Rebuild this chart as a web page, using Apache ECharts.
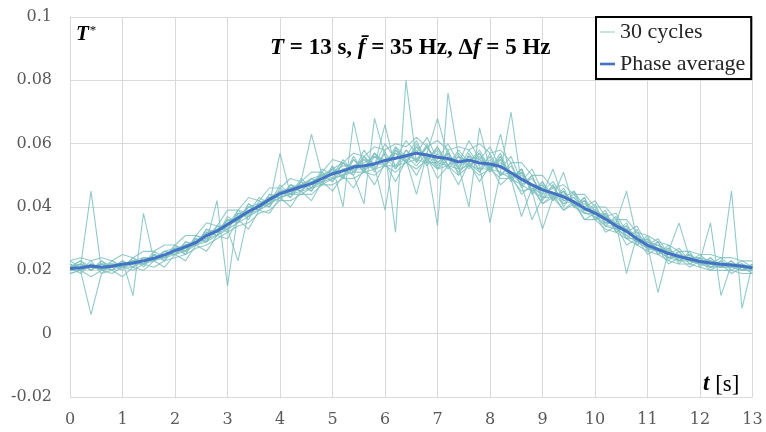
<!DOCTYPE html>
<html>
<head>
<meta charset="utf-8">
<script src="https://cdn.jsdelivr.net/npm/echarts@6/dist/echarts.min.js"></script>
<style>
  html, body { margin: 0; padding: 0; background: #fff; }
</style>
</head>
<body>
<div id="chart" style="width: 766px; height: 432px"></div>
<script>
// time grid [s]
const times = [
  0.0, 0.2, 0.4, 0.6, 0.8, 1.0, 1.2, 1.4, 1.6, 1.8,
  2.0, 2.2, 2.4, 2.6, 2.8, 3.0, 3.2, 3.4, 3.6, 3.8,
  4.0, 4.2, 4.4, 4.6, 4.8, 5.0, 5.2, 5.4, 5.6, 5.8,
  6.0, 6.2, 6.4, 6.6, 6.8, 7.0, 7.2, 7.4, 7.6, 7.8,
  8.0, 8.2, 8.4, 8.6, 8.8, 9.0, 9.2, 9.4, 9.6, 9.8,
  10.0, 10.2, 10.4, 10.6, 10.8, 11.0, 11.2, 11.4, 11.6, 11.8,
  12.0, 12.2, 12.4, 12.6, 12.8, 13.0
];

// phase average, T* in units of 1e-3
const phaseAverage = [
  20.6, 20.8, 21.4, 21.0, 21.3, 21.9, 22.3, 23.0, 23.8, 24.9,
  26.2, 27.4, 28.8, 31.0, 32.4, 34.5, 36.5, 38.6, 40.2, 42.4,
  44.2, 45.3, 46.4, 47.4, 49.0, 50.5, 51.4, 52.6, 53.0, 53.6,
  54.7, 55.4, 56.2, 57.0, 56.4, 55.7, 55.3, 54.2, 54.8, 53.9,
  53.6, 52.8, 50.8, 48.8, 47.0, 45.4, 44.4, 43.2, 41.6, 39.6,
  38.1, 36.2, 34.1, 32.3, 30.0, 27.9, 26.6, 25.3, 24.4, 23.6,
  22.8, 22.3, 21.9, 21.7, 21.3, 20.8
];

// individual cycles, T* in units of 1e-3 (one row of 10 samples = 2 s)
const cycle1 = [
  23,21,45,20,23,21,24,22,26,24, 28,26,31,30,34,34,39,38,43,41,
  47,44,49,46,52,50,55,51,58,53, 60,55,61,57,62,55,60,54,61,55,
  59,52,56,48,52,45,48,43,45,40, 42,37,38,32,34,28,30,25,27,23,
  25,22,24,21,23,21];
const cycle2 = [
  19,20,6,19,20,18,21,20,23,21, 25,23,28,26,31,30,36,33,39,38,
  43,40,45,42,48,45,50,46,52,47, 54,48,55,50,56,49,53,47,54,48,
  53,47,50,44,47,41,44,39,42,36, 38,32,34,28,30,25,27,22,24,21,
  23,20,22,19,21,19];
const cycle3 = [
  22,20,23,19,22,20,24,21,25,23, 28,25,31,29,34,32,39,36,42,40,
  46,43,48,45,51,48,54,50,56,51, 58,32,80,54,60,52,58,50,57,51,
  57,50,54,46,50,42,47,40,45,38, 41,34,37,30,33,26,29,23,26,22,
  24,21,23,20,22,20];
const cycle4 = [
  20,22,20,23,20,23,21,24,23,26, 25,29,28,33,31,37,35,41,39,44,
  43,47,45,49,47,53,49,56,51,57, 53,59,54,60,54,34,76,56,52,57,
  51,56,48,52,45,48,42,46,40,43, 36,39,32,35,28,31,25,28,22,26,
  21,24,21,23,20,22];
const cycle5 = [
  21,19,22,20,22,21,23,22,25,24, 27,26,30,29,42,15,38,37,41,41,
  45,44,48,46,51,49,54,51,55,52, 57,53,58,55,59,54,57,52,58,53,
  35,51,70,47,50,43,47,41,44,39, 40,35,36,31,32,27,29,24,26,22,
  24,21,23,21,22,20];
const cycle6 = [
  21,23,20,22,21,23,12,38,23,26, 25,28,28,32,31,36,35,41,39,44,
  43,47,45,48,48,53,40,67,52,57, 53,58,54,59,55,59,53,57,53,56,
  52,55,50,51,45,47,42,45,40,42, 36,38,32,34,28,30,25,27,23,25,
  22,24,21,45,8,22];
const cycle7 = [
  22,20,22,20,23,21,23,22,25,23, 27,25,30,29,34,33,38,37,41,40,
  45,43,47,45,50,48,52,50,41,68, 56,52,58,54,59,53,57,52,56,52,
  56,50,53,47,49,44,46,42,43,39, 39,35,35,19,31,27,28,24,25,23,
  23,21,22,21,21,20];
const cycle8 = [
  20,22,21,22,20,23,21,24,23,26, 25,29,28,33,32,36,36,40,39,43,
  43,47,46,49,48,52,50,55,52,57, 54,58,55,44,57,68,56,53,40,65,
  52,56,49,52,45,33,43,45,40,43, 36,38,33,34,29,30,26,27,23,25,
  22,23,21,23,20,22];
const cycle9 = [
  21,22,20,22,21,22,22,23,24,25, 25,28,28,32,31,36,35,40,39,43,
  42,46,45,48,47,52,49,55,51,56, 53,57,54,58,53,57,52,56,53,55,
  51,63,49,37,46,44,52,42,43,39, 39,35,35,45,30,28,13,26,35,24,
  23,35,12,22,21,21];
const cycle10 = [
  22,20,22,21,22,21,23,22,24,24, 27,26,30,29,33,33,23,38,41,41,
  57,44,48,63,50,50,52,53,55,54, 53,57,54,59,55,58,53,56,54,57,
  52,55,49,51,45,47,42,45,40,42, 36,37,33,33,29,29,26,26,23,25,
  23,22,22,22,21,21];
const cycle11 = [
  19,20,18,20,19,21,20,22,21,23, 24,25,27,28,30,32,34,35,38,39,
  42,42,44,44,47,47,49,49,51,50, 53,51,54,52,55,52,53,50,53,50,
  52,49,49,45,46,41,43,39,41,36, 36,33,32,30,28,26,25,23,22,22,
  21,20,20,20,19,19];
const cycle12 = [
  23,24,23,24,23,25,24,26,26,28, 28,31,31,35,34,39,39,43,42,46,
  46,49,48,51,51,55,54,57,56,59, 58,60,59,62,59,61,58,59,58,60,
  57,58,54,54,50,50,46,47,44,44, 40,40,36,36,32,31,29,28,26,26,
  25,25,24,24,23,23];
const cycle13 = [
  21,23,21,22,22,22,23,24,24,26, 27,28,29,32,33,35,37,40,41,43,
  45,46,47,49,50,52,54,52,56,53, 39,59,56,61,54,59,53,58,54,58,
  52,57,49,52,44,48,43,45,41,42, 39,37,35,33,31,29,28,26,25,24,
  24,23,22,22,22,21];
const cycle14 = [
  20,21,21,20,21,21,21,23,23,25, 25,27,28,30,31,34,36,38,39,41,
  43,44,45,46,48,49,50,52,52,53, 66,52,56,53,57,52,55,51,54,51,
  55,50,51,47,36,43,44,41,42,38, 38,34,34,30,30,27,26,24,24,23,
  22,22,21,21,20,21];
const cycle15 = [
  21,22,20,23,21,22,23,22,25,24, 26,28,29,31,33,34,38,38,41,43,
  44,46,47,48,50,51,53,53,54,56, 55,57,56,55,59,54,57,53,56,55,
  53,54,51,50,47,46,44,44,41,41, 38,37,34,33,30,29,27,26,24,24,
  23,23,22,22,21,21];
const cycle16 = [
  20,20,21,21,20,21,22,22,23,24, 25,26,28,29,31,33,35,37,39,41,
  43,44,44,46,47,49,50,51,51,52, 53,53,54,55,54,54,53,52,53,52,
  52,51,49,47,45,43,43,51,40,38, 37,34,33,31,29,27,26,24,23,23,
  22,21,21,21,20,20];

const cycles = [
  cycle1, cycle2, cycle3, cycle4, cycle5, cycle6, cycle7, cycle8,
  cycle9, cycle10, cycle11, cycle12, cycle13, cycle14, cycle15, cycle16
];

function toPoints(values) {
  return values.map((v, i) => [times[i], v / 1000]);
}

const serif = "Liberation Serif";
const chart = echarts.init(document.getElementById("chart"));

// thin teal lines, one per cycle
const series = cycles.map((c) => ({
  name: "30 cycles",
  type: "line",
  symbol: "none",
  lineStyle: { width: 1.1, color: "#80c1c0", opacity: 0.85 },
  itemStyle: { color: "#80c1c0" },
  data: toPoints(c),
}));

// thick blue average on top
series.push({
  name: "Phase average",
  type: "line",
  symbol: "none",
  lineStyle: { width: 3, color: "#4472c4" },
  itemStyle: { color: "#4472c4" },
  data: toPoints(phaseAverage),
});

const option = {
  animation: false,
  grid: { left: 70, right: 13.5, top: 17, bottom: 35 },
  title: {
    left: 265,
    top: 32,
    text: "{i|T}{n| = 13 s, }{i|f\u0304}{n| = 35 Hz, \u0394}{i|f}{n| = 5 Hz}",
    textStyle: {
      rich: {
        i: { fontFamily: serif, fontSize: 23, fontWeight: "bold", fontStyle: "italic", color: "#000" },
        n: { fontFamily: serif, fontSize: 23, fontWeight: "bold", color: "#000" },
      },
    },
  },
  legend: {
    orient: "vertical",
    left: 596,
    top: 17,
    padding: [4, 6, 4, 4],
    itemGap: 10,
    itemWidth: 15,
    itemHeight: 14,
    borderColor: "#000",
    borderWidth: 2,
    backgroundColor: "#fff",
    textStyle: { fontFamily: serif, fontSize: 22, color: "#262626" },
    data: [
      { name: "30 cycles", icon: "path://M0,0H17V1H0Z" },
      { name: "Phase average", icon: "path://M0,0H17V3H0Z" },
    ],
  },
  xAxis: {
    type: "value",
    min: 0,
    max: 13,
    interval: 1,
    axisLine: { show: true, lineStyle: { color: "#d9d9d9" } },
    axisTick: { show: false },
    splitLine: { show: true, lineStyle: { color: "#d9d9d9" } },
    axisLabel: { margin: 15, fontFamily: "DejaVu Serif", fontSize: 16, color: "#595959" },
  },
  yAxis: {
    type: "value",
    min: -0.02,
    max: 0.1,
    interval: 0.02,
    axisLine: { show: true, lineStyle: { color: "#d9d9d9" } },
    axisTick: { show: false },
    splitLine: { show: true, lineStyle: { color: "#d9d9d9" } },
    axisLabel: {
      margin: 18,
      fontFamily: "DejaVu Serif",
      fontSize: 16,
      color: "#595959",
      formatter: (v) => String(+v.toFixed(2)),
    },
  },
  // axis names drawn inside the plot
  graphic: [
    {
      type: "text",
      left: 76,
      top: 24,
      style: {
        text: "{t|T}{s|*}",
        rich: {
          t: { fontFamily: serif, fontSize: 21, fontWeight: "bold", fontStyle: "italic", fill: "#000" },
          s: { fontFamily: serif, fontSize: 13, fill: "#000", verticalAlign: "top", padding: [0, 0, 8, 1] },
        },
      },
    },
    {
      type: "text",
      left: 703,
      top: 373,
      style: {
        text: "{t|t}{n| [s]}",
        rich: {
          t: { fontFamily: serif, fontSize: 23, fontWeight: "bold", fontStyle: "italic", fill: "#000" },
          n: { fontFamily: serif, fontSize: 23, fill: "#000" },
        },
      },
    },
  ],
  series: series,
};

chart.setOption(option);
</script>
</body>
</html>
